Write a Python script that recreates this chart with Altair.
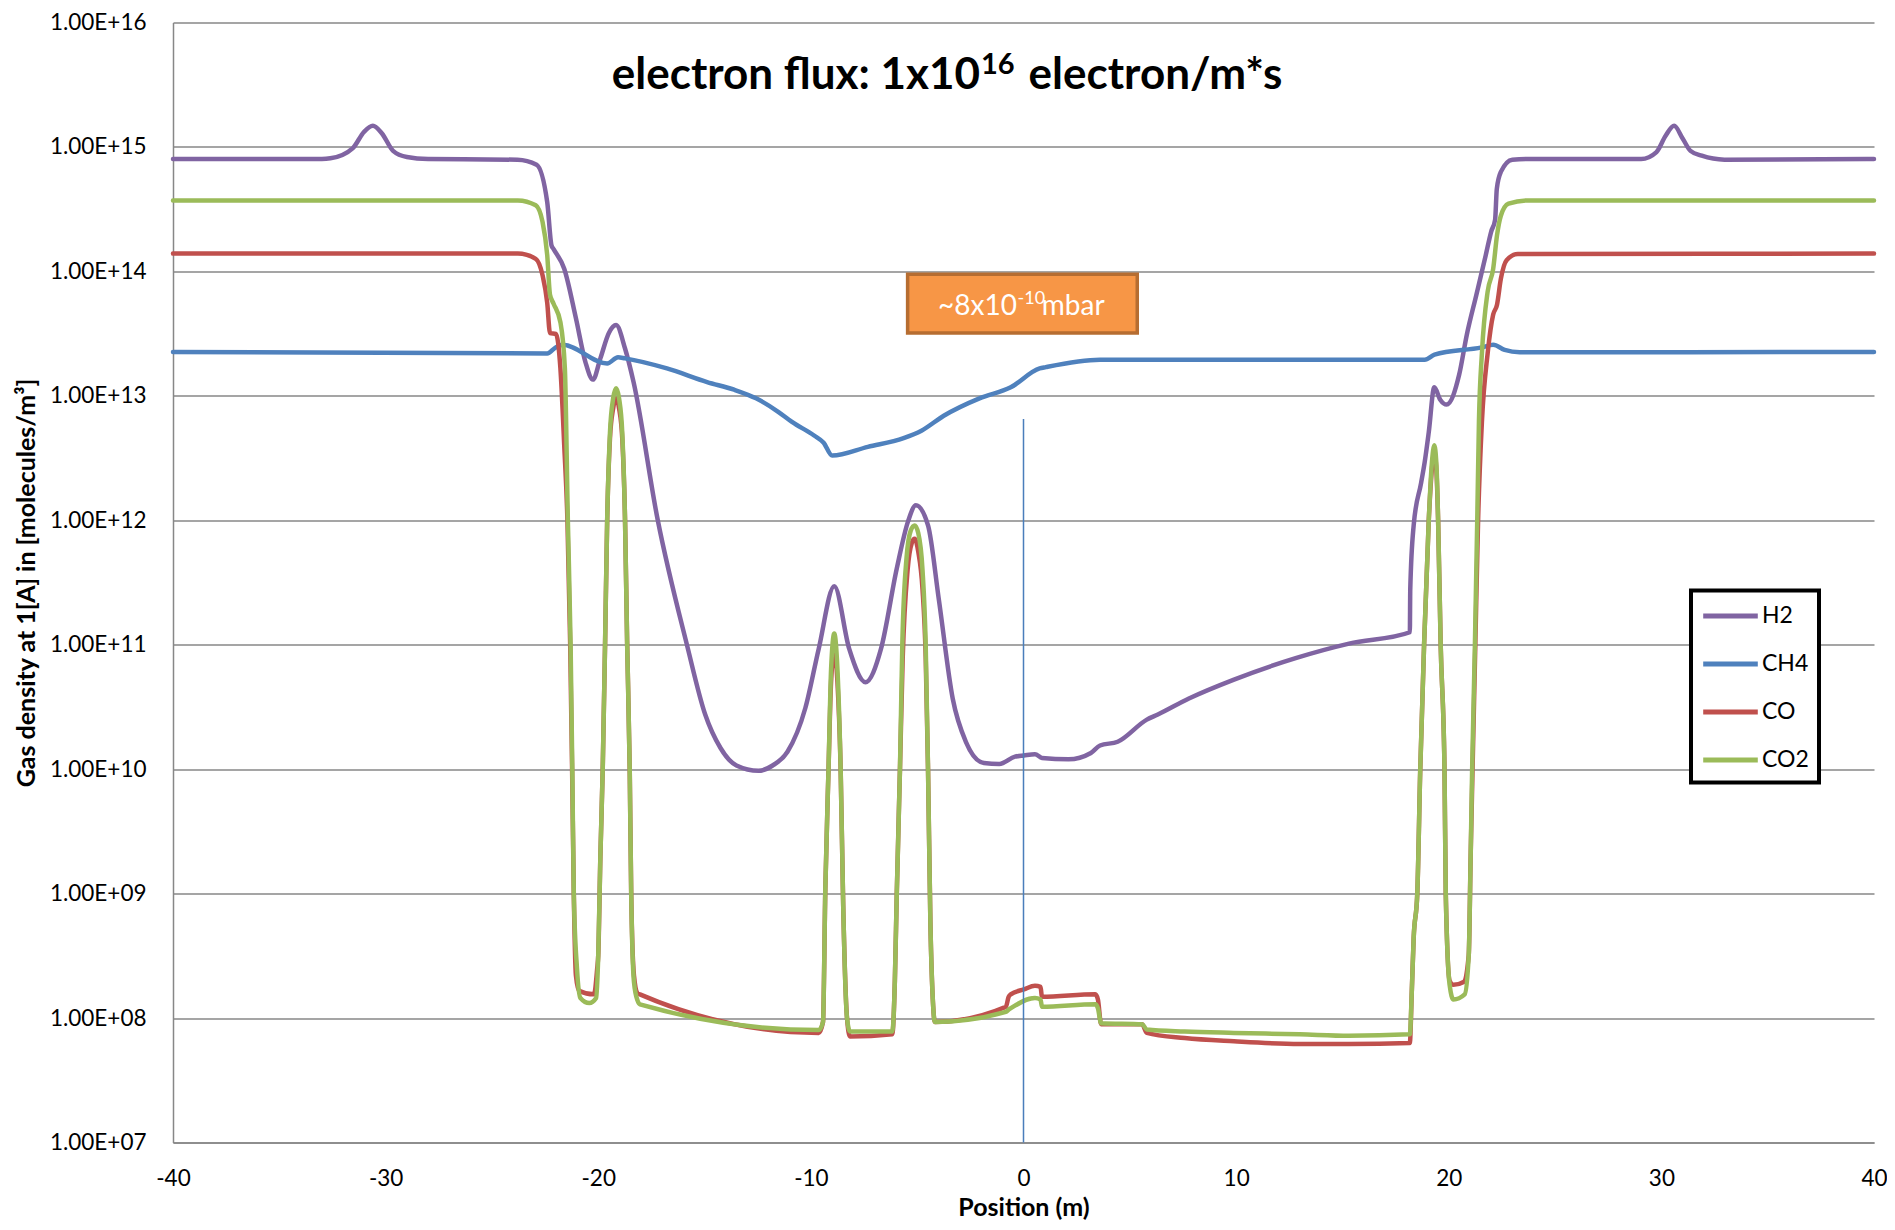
import altair as alt
import pandas as pd

# ---------------- data ----------------
gases = ["H2", "CH4", "CO", "CO2"]
gas_colors = ["#8064A2", "#4F81BD", "#C0504D", "#9BBB59"]

h2_x = [-40, -33, -32.6, -31.54, -31.02, -30.6, -30.18, -29.65, -29.0, -28.0,
        -23.8, -22.9, -22.4, -22.2, -22.1, -21.6, -21.05, -20.6, -20.25, -19.9,
        -19.5, -19.16, -18.74, -18.34, -17.2, -15.83, -14.97, -14.25, -13.5, -12.46,
        -11.8, -11.1, -10.26, -9.63, -8.9, -8.2, -7.43, -6.7, -5.96, -5.43,
        -5.06, -4.49, -3.98, -3.33, -2.71, -1.86, -1.14, -0.4, 0.02, 0.54,
        0.87, 2.12, 3.17, 3.6, 4.43, 5.8, 6.32, 7.78, 9.9, 12.8,
        15.31, 18.17, 18.19, 18.35, 18.7, 18.87, 19.06, 19.32, 19.6, 19.9,
        20.49, 20.85, 21.3, 21.74, 22.0, 22.18, 22.26, 22.45, 22.99, 23.7,
        29.05, 29.77, 30.2, 30.6, 31.0, 31.37, 31.9, 32.97, 40]
h2_y = [8.0e14, 8.0e14, 8.1e14, 9.8e14, 1.32e15, 1.48e15, 1.29e15, 9.3e14, 8.3e14, 8.0e14,
        7.9e14, 7.2e14, 3.6e14, 1.62e14, 1.51e14, 1.05e14, 4.2e13, 1.86e13, 1.35e13, 2.0e13,
        3.2e13, 3.7e13, 2.4e13, 1.29e13, 1.0e12, 1.0e11, 2.75e10, 1.48e10, 1.07e10, 9.7e9,
        1.07e10, 1.38e10, 3.1e10, 9.3e10, 2.95e11, 9.3e10, 5.0e10, 9.3e10, 4.1e11, 9.8e11,
        1.32e12, 9.1e11, 2.3e11, 3.7e10, 1.66e10, 1.12e10, 1.1e10, 1.26e10, 1.29e10, 1.32e10,
        1.23e10, 1.2e10, 1.35e10, 1.55e10, 1.66e10, 2.5e10, 2.75e10, 3.7e10, 5.25e10, 7.8e10,
        1.02e11, 1.26e11, 2.8e11, 9.1e11, 2.0e12, 2.95e12, 5.1e12, 1.17e13, 9.3e12, 8.5e12,
        1.48e13, 3.1e13, 6.5e13, 1.35e14, 2.1e14, 2.6e14, 4.6e14, 6.3e14, 7.9e14, 8.0e14,
        8.0e14, 9.1e14, 1.23e15, 1.48e15, 1.17e15, 9.3e14, 8.5e14, 7.9e14, 8.0e14]

ch4_x = [-40, -22.4, -22.0, -21.68, -19.58, -19.07, -18.74, -16.77, -14.88, -13.61,
         -12.58, -11.52, -10.89, -9.85, -9.4, -9.0, -7.32, -5.64, -4.8, -3.75,
         -2.07, -0.6, 0.76, 1.05, 3.6, 18.87, 19.33, 21.55, 22.09, 22.63,
         23.34, 40]
ch4_y = [2.25e13, 2.19e13, 2.45e13, 2.57e13, 1.82e13, 2.04e13, 2.0e13, 1.66e13, 1.29e13, 1.12e13,
         9.55e12, 7.41e12, 6.17e12, 4.8e12, 4.2e12, 3.31e12, 3.89e12, 4.57e12, 5.25e12, 6.92e12,
         9.55e12, 1.17e13, 1.66e13, 1.7e13, 1.95e13, 1.95e13, 2.14e13, 2.45e13, 2.57e13, 2.34e13,
         2.24e13, 2.25e13]

co_x = [-40, -23.78, -22.94, -22.62, -22.4, -22.27, -21.99, -21.78, -21.6, -21.45,
        -21.32, -21.23, -21.15, -21.05, -20.9, -20.2, -20.05, -20.0, -19.9, -19.79,
        -19.68, -19.58, -19.45, -19.3, -19.16, -19.02, -18.87, -18.74, -18.64, -18.52,
        -18.45, -18.32, -18.15, -18.04, -9.63, -9.43, -9.32, -9.17, -9.05, -8.9,
        -8.75, -8.6, -8.48, -8.3, -8.16, -6.17, -6.05, -5.96, -5.81, -5.68,
        -5.45, -5.25, -5.12, -4.95, -4.75, -4.6, -4.49, -4.38, -4.25, -4.17,
        -0.83, -0.7, -0.6, 0.02, 0.54, 0.8, 0.87, 3.38, 3.5, 3.65,
        5.58, 5.8, 7.58, 9.9, 12.99, 15.3, 18.17, 18.26, 18.35, 18.52,
        18.66, 18.84, 19.06, 19.2, 19.32, 19.42, 19.5, 19.62, 19.8, 19.86,
        20.04, 20.22, 20.7, 20.94, 21.03, 21.12, 21.25, 21.38, 21.56, 21.83,
        22.09, 22.27, 22.45, 22.72, 23.25, 40]
co_y = [1.39e14, 1.39e14, 1.26e14, 9.3e13, 5.6e13, 3.2e13, 3.15e13, 1.66e13, 4.0e12, 1.0e12,
        1.0e11, 1.0e10, 1.0e9, 2.2e8, 1.66e8, 1.55e8, 2.5e8, 3.2e8, 2.0e9, 1.0e10,
        1.0e11, 1.0e12, 4.5e12, 7.9e12, 9.5e12, 7.9e12, 4.5e12, 1.0e12, 1.0e11, 1.0e10,
        1.0e9, 2.2e8, 1.58e8, 1.55e8, 7.6e7, 9.3e7, 1.1e9, 1.0e10, 5.0e10, 8.9e10,
        5.0e10, 1.0e10, 8.1e8, 1.0e8, 7.1e7, 7.4e7, 2.0e8, 1.0e9, 1.0e10, 7.9e10,
        4.0e11, 6.6e11, 7.1e11, 5.6e11, 2.8e11, 7.9e10, 1.0e10, 6.0e8, 1.26e8, 9.3e7,
        1.23e8, 1.48e8, 1.55e8, 1.7e8, 1.82e8, 1.78e8, 1.48e8, 1.55e8, 1.41e8, 8.9e7,
        8.9e7, 7.6e7, 6.9e7, 6.5e7, 6.2e7, 6.2e7, 6.3e7, 1.6e8, 4.4e8, 1.0e9,
        1.0e10, 1.0e11, 1.0e12, 2.5e12, 3.5e12, 2.5e12, 1.0e12, 1.0e11, 1.0e10, 1.0e9,
        2.0e8, 1.85e8, 1.95e8, 3.2e8, 2.0e9, 1.0e10, 1.0e11, 1.0e12, 6.2e12, 2.2e13,
        4.5e13, 5.4e13, 8.7e13, 1.23e14, 1.38e14, 1.39e14]

co2_x = [-40, -23.78, -22.94, -22.62, -22.4, -22.27, -22.1, -21.78, -21.57, -21.43,
         -21.3, -21.22, -21.15, -21.0, -20.84, -20.42, -20.1, -20.0, -19.9, -19.79,
         -19.68, -19.58, -19.45, -19.3, -19.16, -19.02, -18.87, -18.74, -18.64, -18.52,
         -18.45, -18.32, -18.15, -18.04, -9.63, -9.43, -9.32, -9.17, -9.05, -8.9,
         -8.75, -8.6, -8.48, -8.3, -8.16, -6.17, -6.05, -5.96, -5.81, -5.7,
         -5.5, -5.3, -5.12, -4.95, -4.75, -4.6, -4.49, -4.38, -4.25, -4.17,
         -0.83, -0.7, -0.6, 0.54, 0.8, 0.87, 3.38, 3.5, 3.65, 5.58,
         5.8, 7.58, 9.9, 12.99, 15.3, 18.17, 18.26, 18.35, 18.52, 18.66,
         18.84, 19.06, 19.2, 19.32, 19.42, 19.5, 19.62, 19.8, 19.86, 20.04,
         20.22, 20.75, 20.94, 21.03, 21.1, 21.23, 21.34, 21.42, 21.56, 21.83,
         22.09, 22.27, 22.45, 22.81, 23.7, 40]
co2_y = [3.72e14, 3.72e14, 3.4e14, 2.5e14, 1.35e14, 6.5e13, 5.5e13, 3.9e13, 1.66e13, 1.0e12,
         1.0e11, 1.0e10, 1.0e9, 2.5e8, 1.45e8, 1.32e8, 1.45e8, 3.2e8, 2.0e9, 1.0e10,
         1.0e11, 1.0e12, 5.0e12, 9.5e12, 1.15e13, 9.5e12, 5.0e12, 1.0e12, 1.0e11, 1.0e10,
         1.0e9, 1.95e8, 1.38e8, 1.29e8, 8.0e7, 9.3e7, 1.1e9, 1.0e10, 6.3e10, 1.23e11,
         6.3e10, 1.0e10, 8.1e8, 1.0e8, 7.8e7, 7.8e7, 2.0e8, 1.0e9, 1.0e10, 1.0e11,
         5.0e11, 8.3e11, 9.1e11, 7.9e11, 4.0e11, 1.0e11, 1.0e10, 6.0e8, 1.26e8, 9.3e7,
         1.12e8, 1.17e8, 1.2e8, 1.45e8, 1.41e8, 1.23e8, 1.29e8, 1.2e8, 9.1e7, 8.9e7,
         8.1e7, 7.8e7, 7.6e7, 7.4e7, 7.2e7, 7.4e7, 1.6e8, 4.4e8, 1.0e9, 1.0e10,
         1.0e11, 1.0e12, 2.8e12, 4.0e12, 2.8e12, 1.0e12, 1.0e11, 1.0e10, 1.0e9, 1.85e8,
         1.41e8, 1.55e8, 3.2e8, 2.0e9, 1.0e10, 1.0e11, 1.0e12, 6.2e12, 2.2e13, 6.9e13,
         1.05e14, 1.95e14, 2.8e14, 3.5e14, 3.72e14, 3.72e14]

x_ticks = [-40, -30, -20, -10, 0, 10, 20, 30, 40]
y_ticks = [1e7, 1e8, 1e9, 1e10, 1e11, 1e12, 1e13, 1e14, 1e15, 1e16]

# ---------------- tables ----------------
rows = []
for name, xs, ys in [("H2", h2_x, h2_y), ("CH4", ch4_x, ch4_y),
                     ("CO", co_x, co_y), ("CO2", co2_x, co2_y)]:
    for i, (x, y) in enumerate(zip(xs, ys)):
        rows.append({"gas": name, "pos": x, "dens": y, "idx": i})
df = pd.DataFrame(rows)

FONT = "Lato"
W, H = 1701, 1120

x_scale = alt.Scale(domain=[-40, 40], nice=False, zero=False)
y_scale = alt.Scale(type="log", domain=[1e7, 1e16], nice=False)

x_axis = alt.Axis(values=x_ticks, labelExpr="'' + datum.value", title="Position (m)",
                  grid=False, ticks=False, tickSize=0, labelFlush=False,
                  labelPadding=25, titlePadding=5, labelFontSize=22.5, titleFontSize=25)
y_axis = alt.Axis(values=y_ticks,
                  labelExpr="'1.00E+' + format(round(log(datum.value) / LN10), '02d')",
                  title="Gas density at 1[A] in [molecules/m³]",
                  grid=True, ticks=False, tickSize=0, labelFlush=False,
                  labelPadding=27, titlePadding=10, labelFontSize=22.5, titleFontSize=25)

lines = alt.Chart(df).mark_line(
    interpolate="monotone", strokeWidth=4.5, strokeCap="round", strokeJoin="round"
).encode(
    x=alt.X("pos:Q", scale=x_scale, axis=x_axis),
    y=alt.Y("dens:Q", scale=y_scale, axis=y_axis),
    color=alt.Color("gas:N", scale=alt.Scale(domain=gases, range=gas_colors), title=None,
                    legend=alt.Legend(orient="none", legendX=1518, legendY=568,
                                      symbolType="M-2.1,0H2.1", symbolSize=676,
                                      symbolOffset=14, symbolStrokeWidth=5,
                                      labelFontSize=23, labelFont=FONT, labelColor="black",
                                      labelOffset=16, padding=10, rowPadding=20,
                                      strokeColor="black", fillColor="white")),
    order="idx:Q",
)

# vertical marker at 0 m
marker = alt.Chart(pd.DataFrame({"x": [0], "y": [6.5e12], "y2": [1e7]})).mark_rule(
    color="#4A7EBB", strokeWidth=1.5
).encode(x="x:Q", y="y:Q", y2="y2:Q")

# orange pressure box
box = alt.Chart(pd.DataFrame({"x1": [-5.45], "x2": [5.35], "y1": [9.5e13], "y2": [3.2e13]})).mark_rect(
    fill="#F79646", stroke="#B66D31", strokeWidth=3.5
).encode(x="x1:Q", x2="x2:Q", y="y1:Q", y2="y2:Q")


def txt(df_, **kw):
    return alt.Chart(df_).mark_text(font=FONT, baseline="alphabetic", **kw).encode(
        x="x:Q", y="y:Q", text="t:N")


box_a = txt(pd.DataFrame({"x": [-0.31], "y": [4.47e13], "t": ["~8x10"]}),
            align="right", fontSize=28, color="white")
box_b = txt(pd.DataFrame({"x": [-0.28], "y": [4.47e13], "t": ["-10"]}),
            align="left", fontSize=18, color="white", dy=-11)
box_c = txt(pd.DataFrame({"x": [0.86], "y": [4.47e13], "t": ["mbar"]}),
            align="left", fontSize=28, color="white")

title_a = txt(pd.DataFrame({"x": [-2.04], "y": [2.9e15], "t": ["electron flux: 1x10"]}),
              align="right", fontSize=44, fontWeight="bold", color="black")
title_b = txt(pd.DataFrame({"x": [-2.0], "y": [2.9e15], "t": ["16"]}),
              align="left", fontSize=29, fontWeight="bold", color="black", dy=-15)
title_c = txt(pd.DataFrame({"x": [0.24], "y": [2.9e15], "t": ["electron/m*s"]}),
              align="left", fontSize=44, fontWeight="bold", color="black")

chart = alt.layer(lines, marker, box, box_a, box_b, box_c, title_a, title_b, title_c).properties(
    width=W, height=H,
    autosize=alt.AutoSizeParams(type="none"),
    padding={"left": 165, "top": 14.5, "right": 13, "bottom": 79.5},
    background="white",
).configure_view(stroke=None).configure_axis(
    labelFont=FONT, titleFont=FONT, labelColor="black", titleColor="black",
    titleFontWeight="bold", domainColor="#878787", domainWidth=1.5,
    gridColor="#878787", gridWidth=1.5,
).configure_legend(strokeWidth=4)

chart.save("out.html", embed_options={"renderer": "svg", "actions": False})
